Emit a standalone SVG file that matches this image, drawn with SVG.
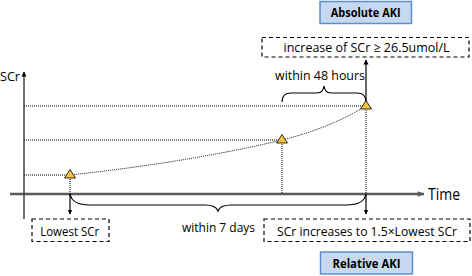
<svg xmlns="http://www.w3.org/2000/svg" width="472" height="276" viewBox="0 0 472 276">
<defs>
<style>
text{font-family:"Open Sans","Liberation Sans",sans-serif;fill:#000;font-size:13px}
.b{font-weight:bold}
.hdr{fill:#c6d9f1;stroke:#5b8fd0;stroke-width:1.5}
.dash{fill:#fff;stroke:#000;stroke-width:1.2;stroke-dasharray:4 3}
.dot{fill:none;stroke:#000;stroke-width:1;stroke-dasharray:1 1}
.sol{fill:none;stroke:#000;stroke-width:1.2}
.tri{fill:#f5c342;stroke:#000;stroke-width:0.8}
</style>
<marker id="ah" viewBox="0 0 10 10" refX="9" refY="5" markerWidth="5" markerHeight="7" orient="auto" markerUnits="userSpaceOnUse">
<path d="M0,0 L10,5 L0,10 z" fill="#000"/>
</marker>
<marker id="ahx" viewBox="0 0 10 10" refX="9" refY="5" markerWidth="10" markerHeight="7" orient="auto" markerUnits="userSpaceOnUse">
<path d="M0,1 L10,5 L0,9 z" fill="#595959"/>
</marker>
</defs>

<g id="axes">
<line x1="10" y1="194" x2="424" y2="194" stroke="#595959" stroke-width="2.5" marker-end="url(#ahx)"/>
<line x1="24" y1="219" x2="24" y2="72" stroke="#404040" stroke-width="1.5" marker-end="url(#ah)"/>
<text x="0" y="80.5" textLength="20" lengthAdjust="spacingAndGlyphs">SCr</text>
<text x="428" y="200" style="font-size:16px" textLength="32" lengthAdjust="spacingAndGlyphs">Time</text>
</g>

<g id="connectors">
<line class="dot" x1="24" y1="106" x2="366" y2="106"/>
<line class="dot" x1="24" y1="140" x2="282" y2="140"/>
<line class="dot" x1="24" y1="175" x2="70" y2="175"/>
<path class="dot" d="M70,175 Q190,162 282,140 Q330,128 366,106"/>
<line class="dot" x1="70" y1="175" x2="70" y2="194"/>
<line class="dot" x1="282" y1="140" x2="282" y2="194"/>
<line class="dot" x1="366" y1="106" x2="366" y2="194"/>
<line class="sol" x1="70" y1="194" x2="70" y2="214" marker-end="url(#ah)"/>
<line class="sol" x1="366" y1="194" x2="366" y2="214" marker-end="url(#ah)"/>
<line class="sol" x1="366" y1="106" x2="366" y2="60" marker-end="url(#ah)"/>
<path class="sol" d="M282,102 Q282,93 291,93 L317,93 Q323,93 324,86 Q325,93 331,93 L357,93 Q366,93 366,102"/>
<path class="sol" d="M70,194 Q72,205 90,205 L205,205 Q216,205 218,211 Q220,205 231,205 L346,205 Q364,205 366,194"/>
</g>

<g id="points">
<path class="tri" d="M70,169.5 L75.5,178 L64.5,178 z"/>
<path class="tri" d="M282,134.5 L287.5,143 L276.5,143 z"/>
<path class="tri" d="M366,100.5 L371.5,109 L360.5,109 z"/>
</g>

<g id="absolute-aki">
<rect class="hdr" x="320" y="1.5" width="91.5" height="22"/>
<text class="b" x="365.7" y="17" text-anchor="middle" textLength="70" lengthAdjust="spacingAndGlyphs">Absolute AKI</text>
</g>

<g id="increase-box">
<rect class="dash" x="262" y="37.5" width="207" height="19.5"/>
<text x="366.5" y="51.5" text-anchor="middle" textLength="166" lengthAdjust="spacingAndGlyphs">increase of SCr ≥ 26.5umol/L</text>
</g>

<g id="label-48h">
<text x="320" y="80" text-anchor="middle" textLength="90" lengthAdjust="spacingAndGlyphs">within 48 hours</text>
</g>

<g id="label-7d">
<text x="218.5" y="231.5" text-anchor="middle" textLength="73" lengthAdjust="spacingAndGlyphs">within 7 days</text>
</g>

<g id="lowest-scr">
<rect class="dash" x="32" y="219" width="77" height="22.5"/>
<text x="69.7" y="235.5" text-anchor="middle" textLength="59" lengthAdjust="spacingAndGlyphs">Lowest SCr</text>
</g>

<g id="increases-box">
<rect class="dash" x="264" y="219" width="206" height="22.5"/>
<text x="367" y="235.5" text-anchor="middle" textLength="180" lengthAdjust="spacingAndGlyphs">SCr increases to 1.5×Lowest SCr</text>
</g>

<g id="relative-aki">
<rect class="hdr" x="320.5" y="252" width="92" height="22"/>
<text class="b" x="366.5" y="268" text-anchor="middle" textLength="68" lengthAdjust="spacingAndGlyphs">Relative AKI</text>
</g>
</svg>
